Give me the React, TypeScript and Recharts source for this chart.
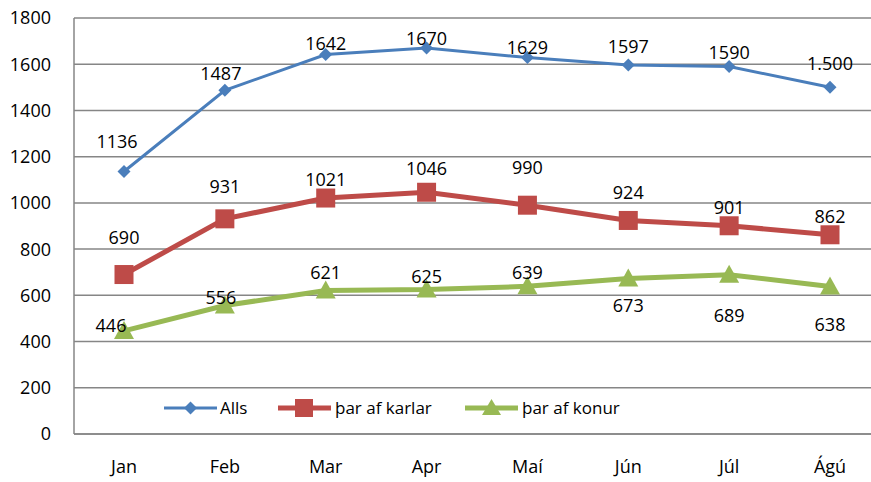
import React from "react";
import { LineChart, Line, XAxis, YAxis, CartesianGrid, LabelList } from "recharts";

const months = ["Jan", "Feb", "Mar", "Apr", "Maí", "Jún", "Júl", "Ágú"];
const alls = [1136, 1487, 1642, 1670, 1629, 1597, 1590, 1500];
const allsLabels = ["1136", "1487", "1642", "1670", "1629", "1597", "1590", "1.500"];
const karlar = [690, 931, 1021, 1046, 990, 924, 901, 862];
const konur = [446, 556, 621, 625, 639, 673, 689, 638];
const yTicks = [0, 200, 400, 600, 800, 1000, 1200, 1400, 1600, 1800];

const data = months.map((m, i) => ({
  m,
  alls: alls[i],
  karlar: karlar[i],
  konur: konur[i],
}));

// label placement (layout, not data)
const allsOff = [[-7, -30], [-4, -17], [0, -12], [0, -10], [0, -11], [0, -19], [0, -15], [0, -24]];
const karlarOff = [[0, -38], [0, -33], [0, -19], [0, -24], [0, -38], [0, -28], [0, -19], [0, -19]];
const konurOff = [[-13, -6], [-4, -9], [0, -18], [0, -14], [0, -14], [0, 27], [0, 40], [0, 37]];

const BLUE = "#4A7EBB";
const RED = "#BE4B48";
const GREEN = "#98B954";
const GRID = "#868686";
const FONT = "'Open Sans', sans-serif";

const makeLabel = (offs: number[][], texts?: string[]) => (props: any) => {
  const { x, y, index, value } = props;
  const o = offs[index] || [0, 0];
  return (
    <text x={x + o[0]} y={y + o[1]} textAnchor="middle" dominantBaseline="central"
      fontSize={18} fontFamily={FONT} fill="#000">
      {texts ? texts[index] : value}
    </text>
  );
};

const Diamond = (props: any) => {
  const { cx, cy } = props;
  const r = 6.5;
  return <path d={`M${cx},${cy - r}L${cx + r},${cy}L${cx},${cy + r}L${cx - r},${cy}Z`} fill={BLUE} />;
};
const Square = (props: any) => {
  const { cx, cy } = props;
  const s = 9.5;
  return <rect x={cx - s} y={cy - s} width={2 * s} height={2 * s} fill={RED} />;
};
const Triangle = (props: any) => {
  const { cx, cy } = props;
  return <path d={`M${cx},${cy - 10}L${cx + 10},${cy + 8}L${cx - 10},${cy + 8}Z`} fill={GREEN} />;
};

const LegendOverlay = () => {
  const item = (left: number, color: string, w: number, marker: React.ReactNode, label: string, textLeft: number) => (
    <div style={{ position: "absolute", left, top: 0, height: 24 }}>
      <svg width={56} height={24} style={{ position: "absolute", left: 0, top: 0 }}>
        <line x1={0} y1={12} x2={53} y2={12} stroke={color} strokeWidth={w} />
        {marker}
      </svg>
      <span style={{ position: "absolute", left: textLeft, top: 0, lineHeight: "24px", fontSize: 17, fontFamily: FONT, whiteSpace: "nowrap", color: "#000" }}>{label}</span>
    </div>
  );
  return (
    <div style={{ position: "absolute", left: 0, top: 396, width: 871, height: 24 }}>
      {item(164, BLUE, 3, <path d="M26.5,5.5L33,12L26.5,18.5L20,12Z" fill={BLUE} />, "Alls", 56)}
      {item(278, RED, 5, <rect x={17} y={3} width={18} height={18} fill={RED} />, "þar af karlar", 57)}
      {item(465, GREEN, 5, <path d="M26.5,3L36,19L17,19Z" fill={GREEN} />, "þar af konur", 57)}
    </div>
  );
};

export default function App() {
  return (
    <div style={{ position: "absolute", left: 0, top: 0, width: 871, height: 482, overflow: "hidden", background: "#fff" }}>
      <LineChart width={880} height={482} data={data} margin={{ top: 18, right: 0, bottom: 0, left: 0 }}>
        <CartesianGrid vertical={false} stroke={GRID} strokeWidth={1.5} />
        <XAxis dataKey="m" axisLine={{ stroke: GRID, strokeWidth: 1.5 }} tickLine={false} tickSize={0} tickMargin={26}
          height={48} padding={{ left: 50, right: 50 }} tick={{ fontSize: 18, fontFamily: FONT, fill: "#000" }} interval={0} />
        <YAxis domain={[0, 1800]} ticks={yTicks} axisLine={{ stroke: GRID, strokeWidth: 1.5 }} tickLine={false}
          tickSize={0} tickMargin={23} width={74} tick={{ fontSize: 18, fontFamily: FONT, fill: "#000" }} interval={0} />
        <Line type="linear" dataKey="alls" stroke={BLUE} strokeWidth={3} dot={<Diamond />} activeDot={false} isAnimationActive={false}>
          <LabelList dataKey="alls" content={makeLabel(allsOff, allsLabels)} />
        </Line>
        <Line type="linear" dataKey="karlar" stroke={RED} strokeWidth={5} dot={<Square />} activeDot={false} isAnimationActive={false}>
          <LabelList dataKey="karlar" content={makeLabel(karlarOff)} />
        </Line>
        <Line type="linear" dataKey="konur" stroke={GREEN} strokeWidth={5} dot={<Triangle />} activeDot={false} isAnimationActive={false}>
          <LabelList dataKey="konur" content={makeLabel(konurOff)} />
        </Line>
      </LineChart>
      <LegendOverlay />
    </div>
  );
}
